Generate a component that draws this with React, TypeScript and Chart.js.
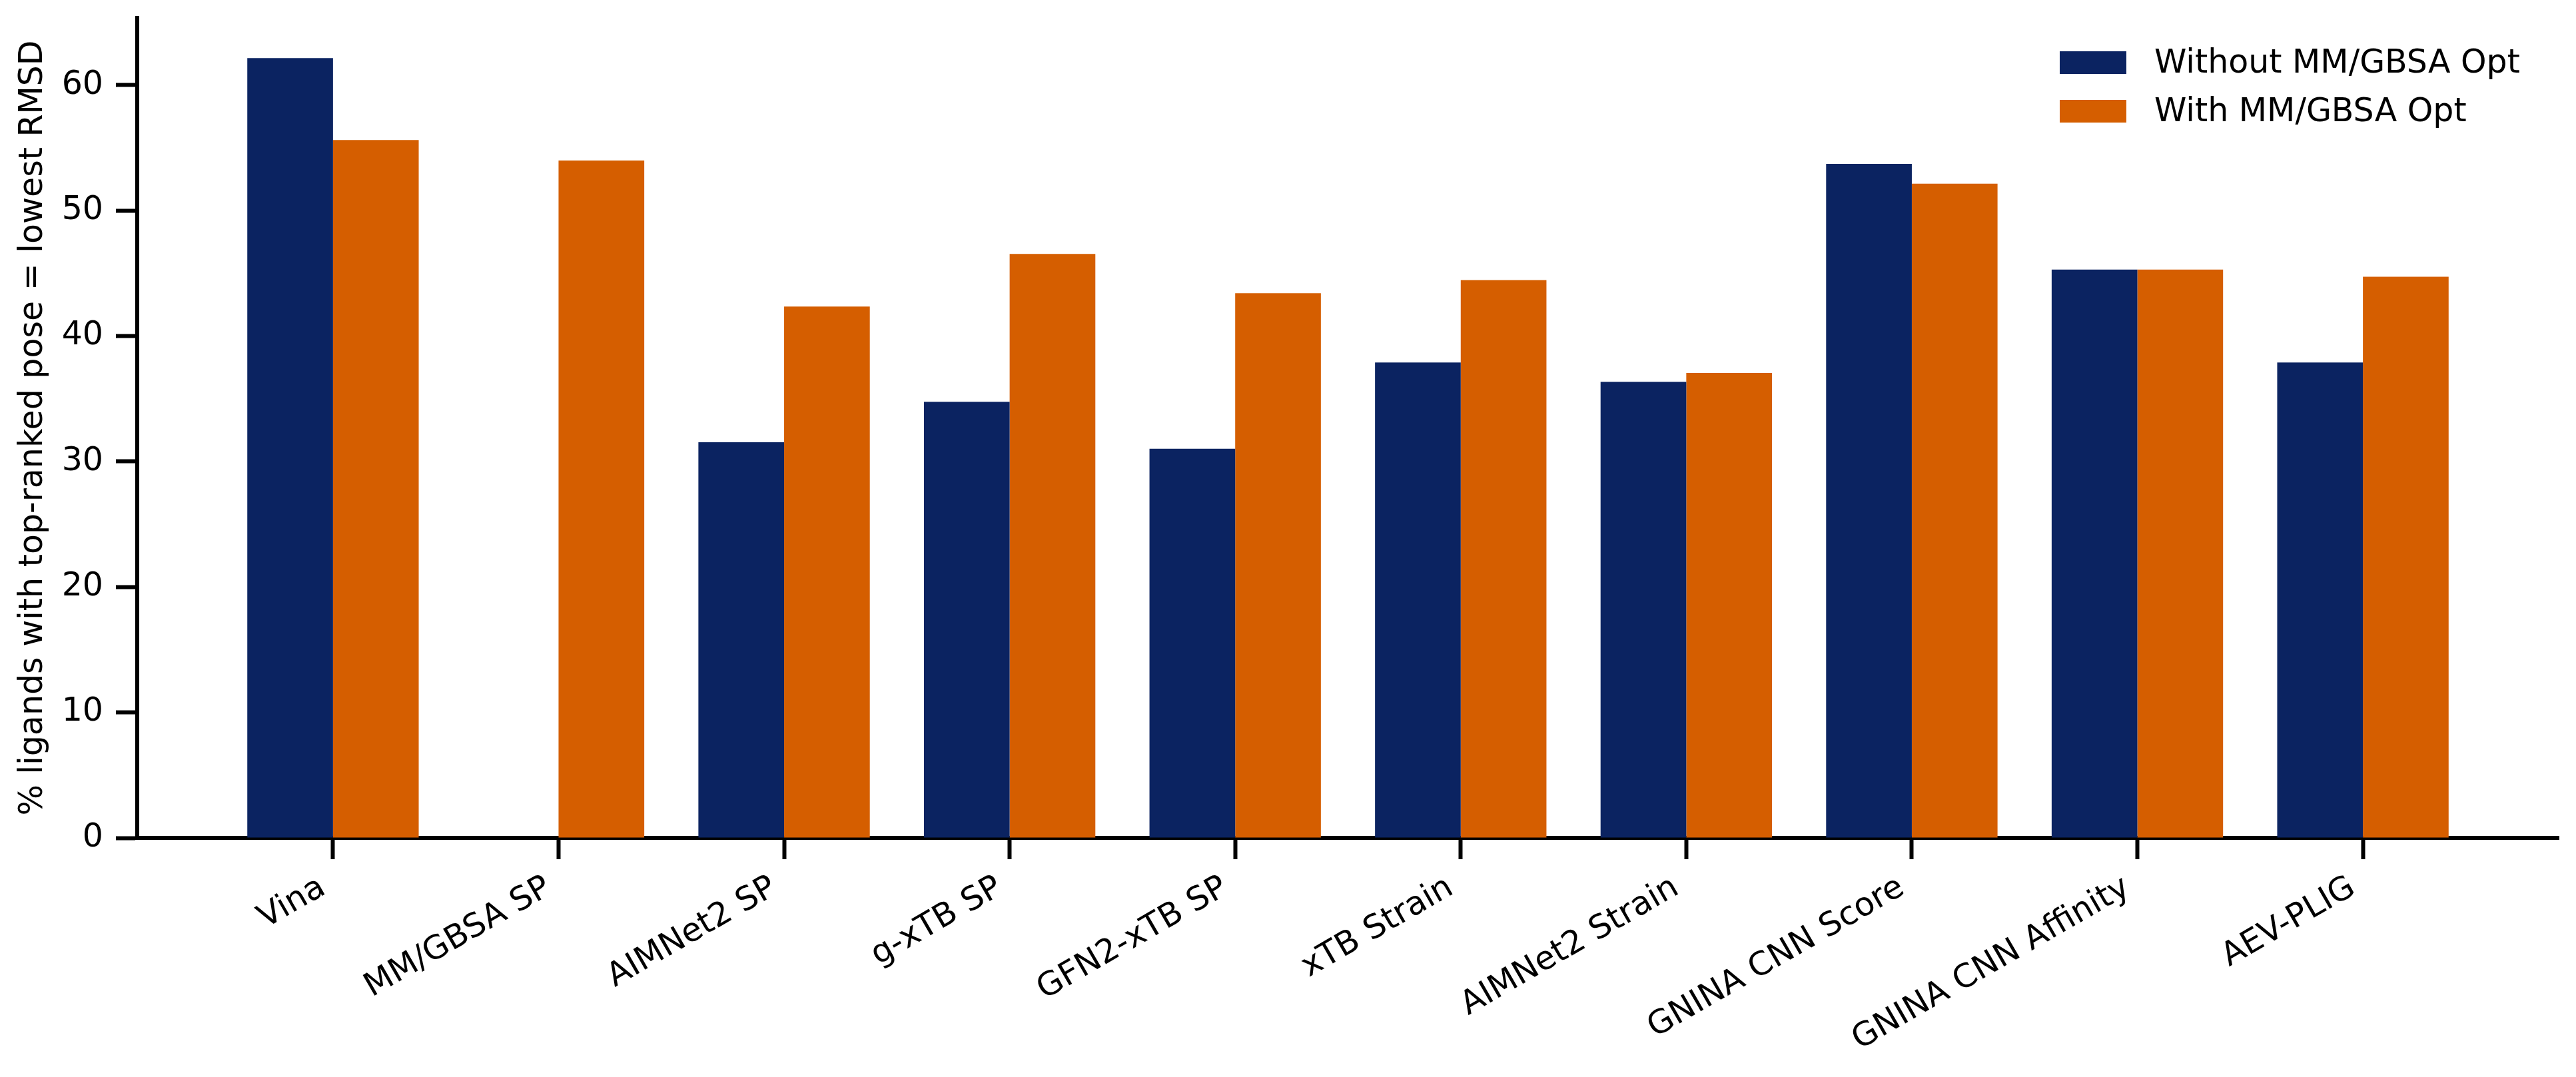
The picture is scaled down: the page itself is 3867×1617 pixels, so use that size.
import React, { useEffect, useRef } from "react";
import { Chart, registerables } from "chart.js";

Chart.register(...registerables);

// data
const categories = [
  "Vina",
  "MM/GBSA SP",
  "AIMNet2 SP",
  "g-xTB SP",
  "GFN2-xTB SP",
  "xTB Strain",
  "AIMNet2 Strain",
  "GNINA CNN Score",
  "GNINA CNN Affinity",
  "AEV-PLIG",
];
const withoutOpt: (number | null)[] = [62.15, null, 31.54, 34.76, 31.01, 37.89, 36.35, 53.73, 45.3, 37.89];
const withOpt: number[] = [55.62, 53.99, 42.35, 46.54, 43.41, 44.46, 37.05, 52.14, 45.3, 44.73];
const yTickValues = [0, 10, 20, 30, 40, 50, 60];

const seriesLabels = ["Without MM/GBSA Opt", "With MM/GBSA Opt"];
const seriesColors = ["#0b2361", "#d55e00"];

const FONT = "'DejaVu Sans', sans-serif";
const INK = "#000000";

// legend drawn inside the plot, top right, stacked like matplotlib's
const insideLegend = {
  id: "insideLegend",
  afterDraw(chart: Chart) {
    const { ctx, chartArea } = chart;
    const boxW = 100;
    const boxH = 34;
    const rowGap = 73;
    const x0 = chartArea.right - 749;
    const y0 = chartArea.top + 50;
    ctx.save();
    ctx.font = `49px ${FONT}`;
    ctx.textBaseline = "middle";
    ctx.textAlign = "left";
    chart.data.datasets.forEach((ds, i) => {
      const y = y0 + i * rowGap;
      ctx.fillStyle = ds.backgroundColor as string;
      ctx.fillRect(x0, y, boxW, boxH);
      ctx.fillStyle = INK;
      ctx.fillText(ds.label ?? "", x0 + boxW + 42, y + boxH / 2 + 2);
    });
    ctx.restore();
  },
};

const App = () => {
  const canvasRef = useRef<HTMLCanvasElement | null>(null);

  useEffect(() => {
    document.body.style.margin = "0";
    const canvas = canvasRef.current;
    if (!canvas) return;

    const chart = new Chart(canvas, {
      type: "bar",
      data: {
        datasets: [
          {
            label: seriesLabels[0],
            data: withoutOpt.map((v, i) => ({ x: i, y: v })),
            backgroundColor: seriesColors[0],
            borderWidth: 0,
          },
          {
            label: seriesLabels[1],
            data: withOpt.map((v, i) => ({ x: i, y: v })),
            backgroundColor: seriesColors[1],
            borderWidth: 0,
          },
        ],
      } as any,
      options: {
        responsive: false,
        devicePixelRatio: 1,
        animation: false,
        events: [],
        layout: { padding: { top: 27, right: 26, left: 0, bottom: 0 } },
        datasets: { bar: { categoryPercentage: 0.76, barPercentage: 1 } },
        plugins: {
          legend: { display: false },
          tooltip: { enabled: false },
        },
        scales: {
          x: {
            type: "linear",
            min: -0.868,
            max: 9.868,
            offset: false,
            afterBuildTicks: (s: any) => {
              s.ticks = categories.map((_, i) => ({ value: i }));
            },
            afterFit: (s: any) => {
              s.height = 359;
              s.paddingLeft = 0;
              s.paddingRight = 0;
            },
            grid: {
              offset: false,
              drawOnChartArea: false,
              drawTicks: true,
              tickLength: 32,
              tickWidth: 6,
              tickColor: INK,
            },
            border: { display: true, color: INK, width: 6 },
            ticks: {
              autoSkip: false,
              maxRotation: 30,
              minRotation: 30,
              padding: 14,
              labelOffset: -15,
              color: INK,
              font: { family: FONT, size: 49 },
              callback: (v: any) => categories[v as number] ?? "",
            },
          },
          y: {
            min: 0,
            max: 65.35,
            afterBuildTicks: (s: any) => {
              s.ticks = yTickValues.map((v) => ({ value: v }));
            },
            afterFit: (s: any) => {
              s.width = 206;
              s.paddingTop = 0;
              s.paddingBottom = 0;
            },
            grid: {
              drawOnChartArea: false,
              drawTicks: true,
              tickLength: 32,
              tickWidth: 6,
              tickColor: INK,
            },
            border: { display: true, color: INK, width: 6 },
            ticks: {
              padding: 19,
              color: INK,
              font: { family: FONT, size: 49 },
            },
            title: {
              display: true,
              text: "% ligands with top-ranked pose = lowest RMSD",
              color: INK,
              font: { family: FONT, size: 49 },
              padding: { top: 21, bottom: 0 },
            },
          },
        },
      },
      plugins: [insideLegend],
    });

    return () => chart.destroy();
  }, []);

  return (
    <div style={{ width: 3867, height: 1617, background: "#ffffff" }}>
      <canvas ref={canvasRef} width={3867} height={1617} />
    </div>
  );
};

export default App;
